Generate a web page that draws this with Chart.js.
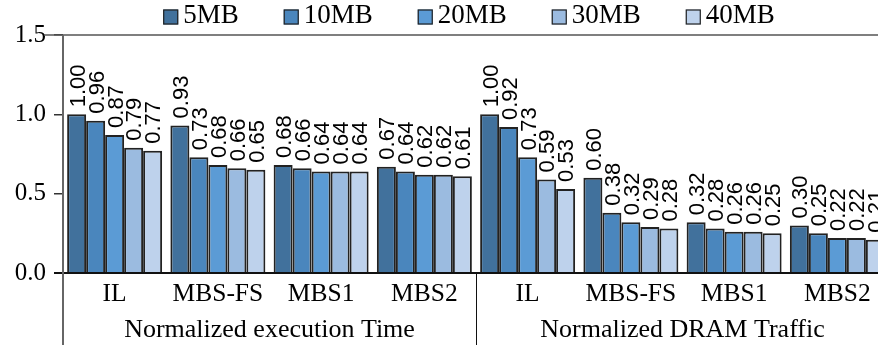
<!DOCTYPE html>
<html>
<head>
<meta charset="utf-8">
<script src="https://cdn.jsdelivr.net/npm/chart.js@4/dist/chart.umd.min.js"></script>
<style>
  html, body { margin: 0; padding: 0; background: #fff; overflow: hidden; width: 878px; height: 345px; }
  #wrap { width: 900px; height: 345px; }
  canvas { display: block; }
</style>
</head>
<body>
<div id="wrap"><canvas id="c" width="900" height="345"></canvas></div>
<script>
// Benchmarks, grouped under two metrics
const categories = ['IL', 'MBS-FS', 'MBS1', 'MBS2', 'IL', 'MBS-FS', 'MBS1', 'MBS2'];
const groups = ['Normalized execution Time', 'Normalized DRAM Traffic'];
const seriesNames = ['5MB', '10MB', '20MB', '30MB', '40MB'];

// One array per cache size: 4 execution-time values, then 4 DRAM-traffic values
const s5MB  = [1.00, 0.93, 0.68, 0.67, 1.00, 0.60, 0.32, 0.30];
const s10MB = [0.96, 0.73, 0.66, 0.64, 0.92, 0.38, 0.28, 0.25];
const s20MB = [0.87, 0.68, 0.64, 0.62, 0.73, 0.32, 0.26, 0.22];
const s30MB = [0.79, 0.66, 0.64, 0.62, 0.59, 0.29, 0.26, 0.22];
const s40MB = [0.77, 0.65, 0.64, 0.61, 0.53, 0.28, 0.25, 0.21];

const yTicks = [0, 0.5, 1.0, 1.5];

const seriesValues = [s5MB, s10MB, s20MB, s30MB, s40MB];
const colors = ['#41719c', '#4a86bd', '#5b9bd5', '#9bbbe0', '#bed2ec'];

const SERIF = '"Liberation Serif", "Times New Roman", serif';
const SANS = '"Liberation Sans", Arial, sans-serif';

const datasets = seriesNames.map((name, i) => ({
  label: name,
  data: seriesValues[i],
  backgroundColor: colors[i],
  borderColor: '#222',
  borderWidth: 2,
  borderSkipped: 'start',
  categoryPercentage: 0.92,
  barPercentage: 1.0
}));

// Rotated value labels above each bar, axis decorations, group titles and legend
const decorations = {
  id: 'decorations',
  afterDatasetsDraw(chart) {
    const ctx = chart.ctx;
    const fs = 22;
    ctx.save();
    ctx.font = fs + 'px ' + SANS;
    ctx.fillStyle = '#000';
    ctx.textAlign = 'left';
    ctx.textBaseline = 'alphabetic';
    chart.data.datasets.forEach((ds, di) => {
      const meta = chart.getDatasetMeta(di);
      meta.data.forEach((bar, i) => {
        ctx.save();
        ctx.translate(bar.x, bar.y - 7);
        ctx.rotate(-Math.PI / 2);
        ctx.fillText(ds.data[i].toFixed(2), 0, fs * 0.358);
        ctx.restore();
      });
    });
    ctx.restore();
  },
  afterDraw(chart) {
    const ctx = chart.ctx;
    const area = chart.chartArea;
    const xs = chart.scales.x;
    const W = chart.width, H = chart.height;
    ctx.save();

    // top frame line
    ctx.strokeStyle = '#555';
    ctx.lineWidth = 1.5;
    ctx.beginPath();
    ctx.moveTo(44, area.top);
    ctx.lineTo(W, area.top);
    ctx.stroke();

    // x axis line
    ctx.strokeStyle = '#111';
    ctx.lineWidth = 2;
    ctx.beginPath();
    ctx.moveTo(area.left - 9, area.bottom);
    ctx.lineTo(W, area.bottom);
    ctx.stroke();

    // y axis line, running down through the label rows
    ctx.strokeStyle = '#666';
    ctx.lineWidth = 2;
    ctx.beginPath();
    ctx.moveTo(area.left, area.top);
    ctx.lineTo(area.left, H);
    ctx.stroke();

    // separator between the two metric groups
    const sepX = (xs.getPixelForValue(3) + xs.getPixelForValue(4)) / 2;
    ctx.strokeStyle = '#111';
    ctx.lineWidth = 1;
    ctx.beginPath();
    ctx.moveTo(Math.round(sepX) + 0.5, area.bottom);
    ctx.lineTo(Math.round(sepX) + 0.5, H);
    ctx.stroke();

    // group titles
    ctx.fillStyle = '#000';
    ctx.font = '26px ' + SERIF;
    ctx.textAlign = 'center';
    ctx.textBaseline = 'alphabetic';
    groups.forEach((g, gi) => {
      const cx = (xs.getPixelForValue(gi * 4) + xs.getPixelForValue(gi * 4 + 3)) / 2;
      ctx.fillText(g, cx, 336.5);
    });

    // legend
    const boxSize = 15, boxGap = 5, itemGap = 45;
    ctx.font = '27px ' + SERIF;
    ctx.textAlign = 'left';
    const widths = chart.data.datasets.map(ds => ctx.measureText(ds.label).width);
    let total = 0;
    widths.forEach((w, i) => { total += boxSize + boxGap + w + (i < widths.length - 1 ? itemGap : 0); });
    let x = 469 - total / 2;
    chart.data.datasets.forEach((ds, i) => {
      ctx.fillStyle = ds.backgroundColor;
      ctx.fillRect(x, 9.5, boxSize, boxSize);
      ctx.strokeStyle = '#222';
      ctx.lineWidth = 1.2;
      ctx.strokeRect(x + 0.5, 10, boxSize - 1, boxSize - 1);
      ctx.fillStyle = '#000';
      ctx.fillText(ds.label, x + boxSize + boxGap, 23);
      x += boxSize + boxGap + widths[i] + itemGap;
    });

    ctx.restore();
  }
};

new Chart(document.getElementById('c'), {
  type: 'bar',
  data: { labels: categories, datasets },
  plugins: [decorations],
  options: {
    responsive: false,
    animation: false,
    devicePixelRatio: 1,
    layout: { padding: { top: 35, right: 11, bottom: 0, left: 0 } },
    plugins: {
      legend: { display: false },
      tooltip: { enabled: false },
      title: { display: false }
    },
    scales: {
      x: {
        type: 'category',
        offset: true,
        grid: { display: false, drawTicks: false },
        border: { display: false },
        ticks: {
          color: '#000',
          font: { family: SERIF, size: 25.5 },
          padding: 6,
          maxRotation: 0,
          autoSkip: false
        },
        afterFit(scale) { scale.height = 72; }
      },
      y: {
        min: 0,
        max: 1.5,
        afterBuildTicks(scale) { scale.ticks = yTicks.map(v => ({ value: v })); },
        grid: {
          display: true,
          drawOnChartArea: false,
          drawTicks: true,
          tickLength: 9,
          color: '#333',
          lineWidth: 1.5
        },
        border: { display: false },
        ticks: {
          color: '#000',
          font: { family: SERIF, size: 25 },
          padding: 8,
          callback: v => Number(v).toFixed(1)
        },
        afterFit(scale) { scale.width = 63; }
      }
    }
  }
});
</script>
</body>
</html>
